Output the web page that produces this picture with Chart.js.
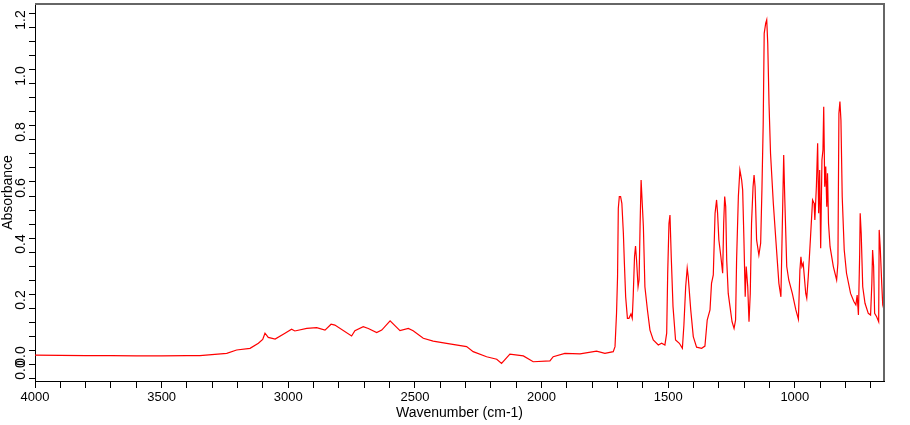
<!DOCTYPE html>
<html>
<head>
<meta charset="utf-8">
<script src="https://cdn.jsdelivr.net/npm/chart.js@4"></script>
<style>
  body { margin: 0; background: #fff; }
  #box { width: 910px; height: 425px; }
</style>
</head>
<body>
<div id="box"><canvas id="myChart"></canvas></div>
<script>
// Spectrum (wavenumber in cm-1, absorbance)
const wavenumbers = [
  4000, 3900, 3800, 3700, 3600, 3500, 3400, 3349, 3243, 3204, 3151, 3118, 3101, 3092, 3079,
  3052, 3013, 2987, 2974, 2927, 2888, 2855, 2831, 2816, 2750, 2737, 2704, 2684, 2651, 2631,
  2598, 2559, 2526, 2507, 2467, 2428, 2375, 2296, 2270, 2217, 2177, 2158, 2125, 2072, 2033,
  1967, 1954, 1908, 1848, 1783, 1750, 1717, 1710, 1704, 1700, 1697, 1693, 1688, 1683, 1677,
  1673, 1668, 1661, 1655, 1647, 1642, 1638, 1633, 1629, 1625, 1619, 1615, 1611, 1607, 1604,
  1598, 1592, 1582, 1572, 1559, 1539, 1526, 1513, 1506, 1502, 1497, 1493, 1488, 1481, 1471,
  1456, 1444, 1438, 1431, 1425, 1421, 1411, 1401, 1388, 1368, 1355, 1346, 1335, 1329, 1322,
  1315, 1309, 1305, 1300, 1292, 1285, 1281, 1277, 1273, 1269, 1263, 1256, 1248, 1240, 1234,
  1230, 1223, 1217, 1210, 1206, 1201, 1196, 1192, 1186, 1181, 1176, 1171, 1165, 1161, 1157,
  1151, 1142, 1135, 1130, 1125, 1121, 1115, 1111, 1107, 1102, 1096, 1085, 1075, 1063, 1055,
  1048, 1044, 1040, 1032, 1024, 1010, 996, 986, 980, 976, 972, 967, 957, 953, 947,
  938, 930, 924, 921, 915, 910, 906, 902, 898, 893, 889, 886, 882, 878, 874,
  871, 867, 861, 848, 835, 830, 826, 822, 818, 813, 805, 796, 780, 767, 759,
  754, 749, 744, 742, 738, 732, 723, 710, 701, 696, 693, 689, 685, 677, 669,
  667, 663, 657, 653, 648
];
const absorbance = [
  -0.018, -0.019, -0.020, -0.020, -0.021, -0.021, -0.020, -0.020, -0.012, 0.000, 0.006, 0.024, 0.038, 0.060, 0.045,
  0.039, 0.060, 0.074, 0.068, 0.077, 0.080, 0.071, 0.092, 0.089, 0.050, 0.069, 0.083, 0.077, 0.062, 0.071,
  0.104, 0.069, 0.077, 0.069, 0.042, 0.032, 0.024, 0.012, -0.006, -0.024, -0.033, -0.048, -0.015, -0.021, -0.042,
  -0.039, -0.024, -0.012, -0.014, -0.004, -0.012, -0.006, 0.012, 0.131, 0.262, 0.506, 0.548, 0.548, 0.524, 0.417,
  0.310, 0.190, 0.113, 0.113, 0.129, 0.113, 0.196, 0.333, 0.371, 0.321, 0.226, 0.250, 0.446, 0.607, 0.607,
  0.440, 0.226, 0.143, 0.071, 0.036, 0.018, 0.024, 0.018, 0.060, 0.274, 0.452, 0.482, 0.333, 0.155, 0.036,
  0.024, 0.006, 0.089, 0.226, 0.292, 0.262, 0.143, 0.048, 0.010, 0.006, 0.014, 0.107, 0.143, 0.238, 0.268,
  0.488, 0.536, 0.488, 0.393, 0.333, 0.274, 0.452, 0.548, 0.512, 0.321, 0.202, 0.155, 0.101, 0.077, 0.107,
  0.321, 0.548, 0.643, 0.607, 0.571, 0.393, 0.190, 0.298, 0.226, 0.101, 0.202, 0.452, 0.583, 0.625, 0.583,
  0.393, 0.339, 0.381, 0.571, 0.804, 1.131, 1.167, 1.179, 1.095, 0.881, 0.702, 0.524, 0.393, 0.238, 0.190,
  0.512, 0.696, 0.548, 0.298, 0.250, 0.202, 0.143, 0.110, 0.286, 0.333, 0.298, 0.310, 0.202, 0.185, 0.262,
  0.405, 0.536, 0.524, 0.464, 0.583, 0.738, 0.488, 0.643, 0.363, 0.679, 0.714, 0.869, 0.583, 0.655, 0.512,
  0.631, 0.452, 0.369, 0.298, 0.250, 0.310, 0.845, 0.887, 0.821, 0.548, 0.357, 0.274, 0.202, 0.173, 0.161,
  0.196, 0.125, 0.345, 0.488, 0.417, 0.226, 0.167, 0.131, 0.125, 0.238, 0.357, 0.298, 0.131, 0.119, 0.101,
  0.429, 0.369, 0.238, 0.161, 0.143
];
const xTickLabels = [4000, 3500, 3000, 2500, 2000, 1500, 1000];
const yTickLabels = [0.0, 0.2, 0.4, 0.6, 0.8, 1.0, 1.2];

const points = wavenumbers.map((w, i) => ({ x: w, y: absorbance[i] }));

function near(a, b) {
  return Math.abs(a - b) < 1e-6;
}

// grey border on top and right side of the plot
const frame = {
  id: 'frame',
  afterDraw(chart) {
    const { ctx, chartArea: a } = chart;
    ctx.save();
    ctx.strokeStyle = '#666666';
    ctx.lineWidth = 2;
    ctx.beginPath();
    ctx.moveTo(a.left, a.top);
    ctx.lineTo(a.right, a.top);
    ctx.lineTo(a.right, a.bottom);
    ctx.stroke();
    ctx.restore();
  }
};

const ctx = document.getElementById('myChart');

const myChart = new Chart(ctx, {
  type: 'line',
  data: {
    datasets: [{
      data: points,
      borderColor: '#ff0000',
      borderWidth: 1.2,
      pointRadius: 0,
      tension: 0,
      fill: false
    }]
  },
  options: {
    responsive: true,
    maintainAspectRatio: false,
    animation: false,
    layout: { padding: { left: 0, right: 26, top: 4, bottom: 0 } },
    plugins: { legend: { display: false }, tooltip: { enabled: false } },
    scales: {
      x: {
        type: 'linear',
        reverse: true,
        min: 648,
        max: 4000,
        afterBuildTicks(scale) {
          const t = [];
          for (let v = 700; v <= 4000; v += 100) t.push({ value: v });
          scale.ticks = t;
        },
        afterFit(scale) {
          scale.height = 44;
          scale.paddingLeft = 0;
          scale.paddingRight = 0;
        },
        ticks: {
          autoSkip: false,
          maxRotation: 0,
          padding: 2,
          color: '#000',
          font: { family: 'Liberation Sans', size: 13 },
          callback: v => xTickLabels.includes(v) ? String(v) : ''
        },
        grid: { drawOnChartArea: false, tickLength: 7, color: '#000' },
        border: { color: '#000', width: 1 },
        title: {
          display: true,
          text: 'Wavenumber (cm-1)',
          color: '#000',
          font: { family: 'Liberation Sans', size: 14 },
          padding: { top: 0, bottom: 3 }
        }
      },
      y: {
        min: -0.1107,
        max: 1.2357,
        afterBuildTicks(scale) {
          const t = [];
          for (let i = -2; i <= 24; i++) t.push({ value: i * 0.05 });
          scale.ticks = t;
        },
        afterFit(scale) {
          scale.width = 35;
          scale.paddingTop = 0;
          scale.paddingBottom = 0;
        },
        ticks: {
          autoSkip: false,
          minRotation: 90,
          maxRotation: 90,
          crossAlign: 'center',
          labelOffset: 6,
          padding: -2,
          color: '#000',
          font: { family: 'Liberation Sans', size: 14 },
          callback: v => {
            if (yTickLabels.some(t => near(t, v))) return v.toFixed(1);
            if (near(v, -0.05)) return '0.0';
            return '';
          }
        },
        grid: { drawOnChartArea: false, tickLength: 6, color: '#000' },
        border: { color: '#000', width: 1 },
        title: {
          display: true,
          text: 'Absorbance',
          color: '#000',
          font: { family: 'Liberation Sans', size: 14 },
          padding: { top: 0, bottom: 0 }
        }
      }
    }
  },
  plugins: [frame]
});
</script>
</body>
</html>
